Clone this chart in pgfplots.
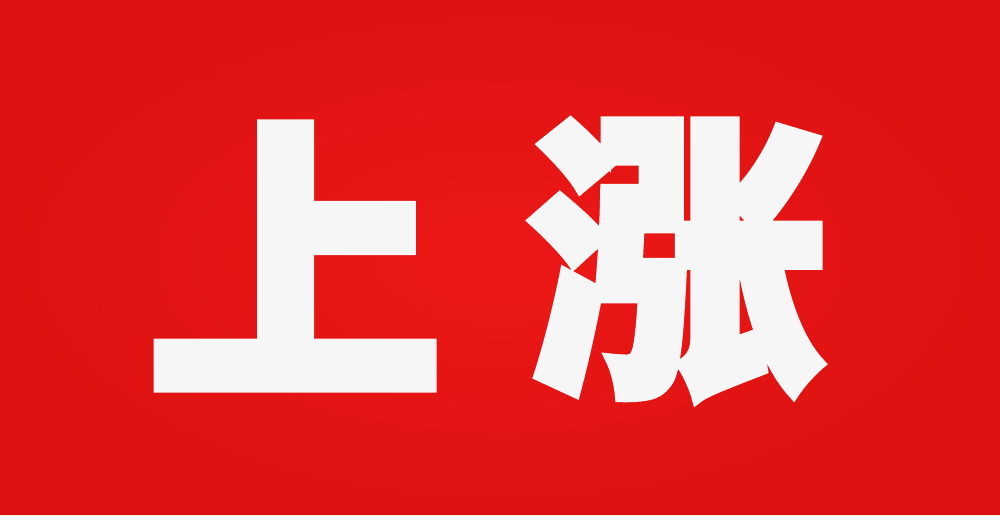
\documentclass[border=0pt]{standalone}
\usepackage{pgfplots}
\pgfplotsset{compat=1.18}
\usepackage{fontspec}
\newfontfamily\cjk{Noto Sans CJK SC}[BoldFeatures={FakeBold=3.6}]
\definecolor{redin}{RGB}{236,24,22}
\definecolor{redout}{RGB}{222,18,18}
\definecolor{txt}{RGB}{246,246,246}
\begin{document}
\begin{tikzpicture}
\begin{axis}[
    width=10cm, height=5.15cm, scale only axis,
    xmin=0, xmax=1000, ymin=0, ymax=515,
    hide axis, clip=false,
]
    % background panel
    \addplot[draw=none, shade, shading=radial, inner color=redin, outer color=redout]
        coordinates {(0,0) (1000,0) (1000,515) (0,515)} \closedcycle;

    \node[text=txt, font=\cjk\bfseries\fontsize{84}{84}\selectfont, inner sep=0pt]
        at (axis cs:295,259) {上};
    \node[text=txt, font=\cjk\bfseries\fontsize{84}{84}\selectfont, inner sep=0pt]
        at (axis cs:677,255) {涨};
\end{axis}
\end{tikzpicture}
\end{document}
